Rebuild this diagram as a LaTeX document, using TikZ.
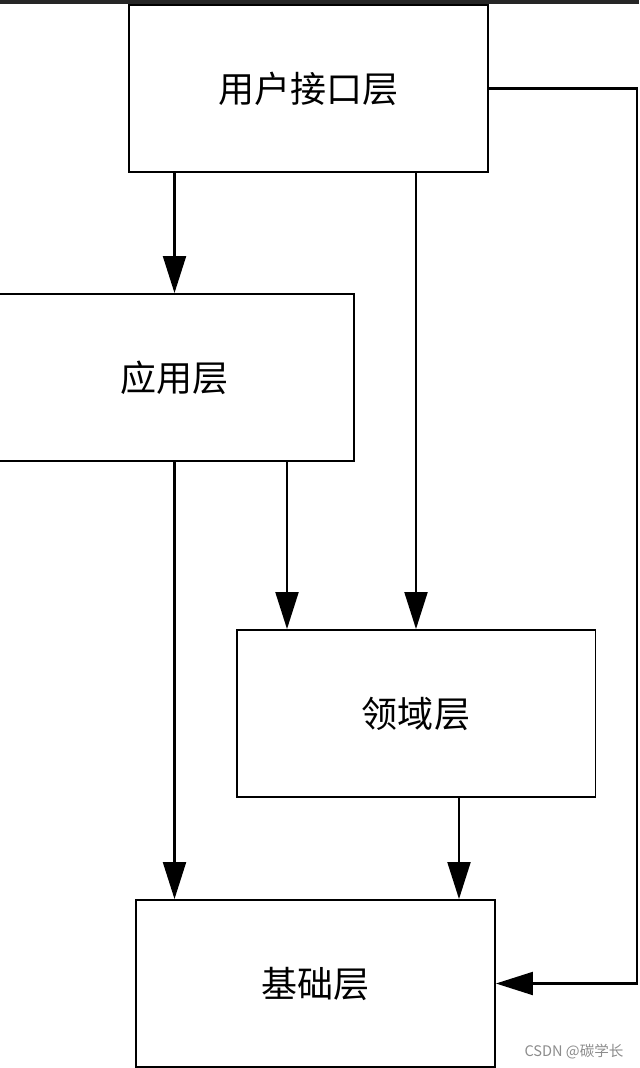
\documentclass[tikz,border=0pt]{standalone}
\usepackage{fontspec}
\usepackage{xcolor}
\usepackage{tikz}
\usetikzlibrary{positioning,arrows.meta}
\newfontfamily\cjk{Noto Sans CJK SC}

\begin{document}
\begin{tikzpicture}[x=0.02cm, y=-0.02cm,
  layer/.style={draw, rectangle, line width=1.1pt, minimum width=7.18cm, minimum height=3.34cm, font=\cjk\fontsize{20.5}{24}\selectfont},
  flow/.style={-{Triangle[width=0.46cm,length=0.74cm]}, line width=1.2pt}]
\useasboundingbox (0,0) rectangle (639,1068);
\fill[black!85] (0,0) rectangle (639,4);

\node[layer] (ui) at (308.5,88.5) {用户接口层};
\node[layer] (app) at (174.5,377.5) {应用层};
\node[layer] (domain) at (416,713.5) {领域层};
\node[layer] (infra) at (315.5,983.5) {基础层};

\coordinate (appout) at (287,461);
\coordinate (domout) at (459,797);
\coordinate (rightside) at (637,500);

\draw[flow] (ui.south -| app) -- (app.north);
\draw[flow] (ui.south -| domain) -- (domain.north);
\draw[flow] (appout) -- (appout |- domain.north);
\draw[flow] (app.south) -- (app.south |- infra.north);
\draw[flow] (domout) -- (domout |- infra.north);
\draw[flow] (ui.east) -| (rightside) |- (infra.east);

\node[text=black!45, font=\cjk\fontsize{8.3}{9}\selectfont] (mark) at (574,1052) {CSDN @碳学长};
\end{tikzpicture}
\end{document}
